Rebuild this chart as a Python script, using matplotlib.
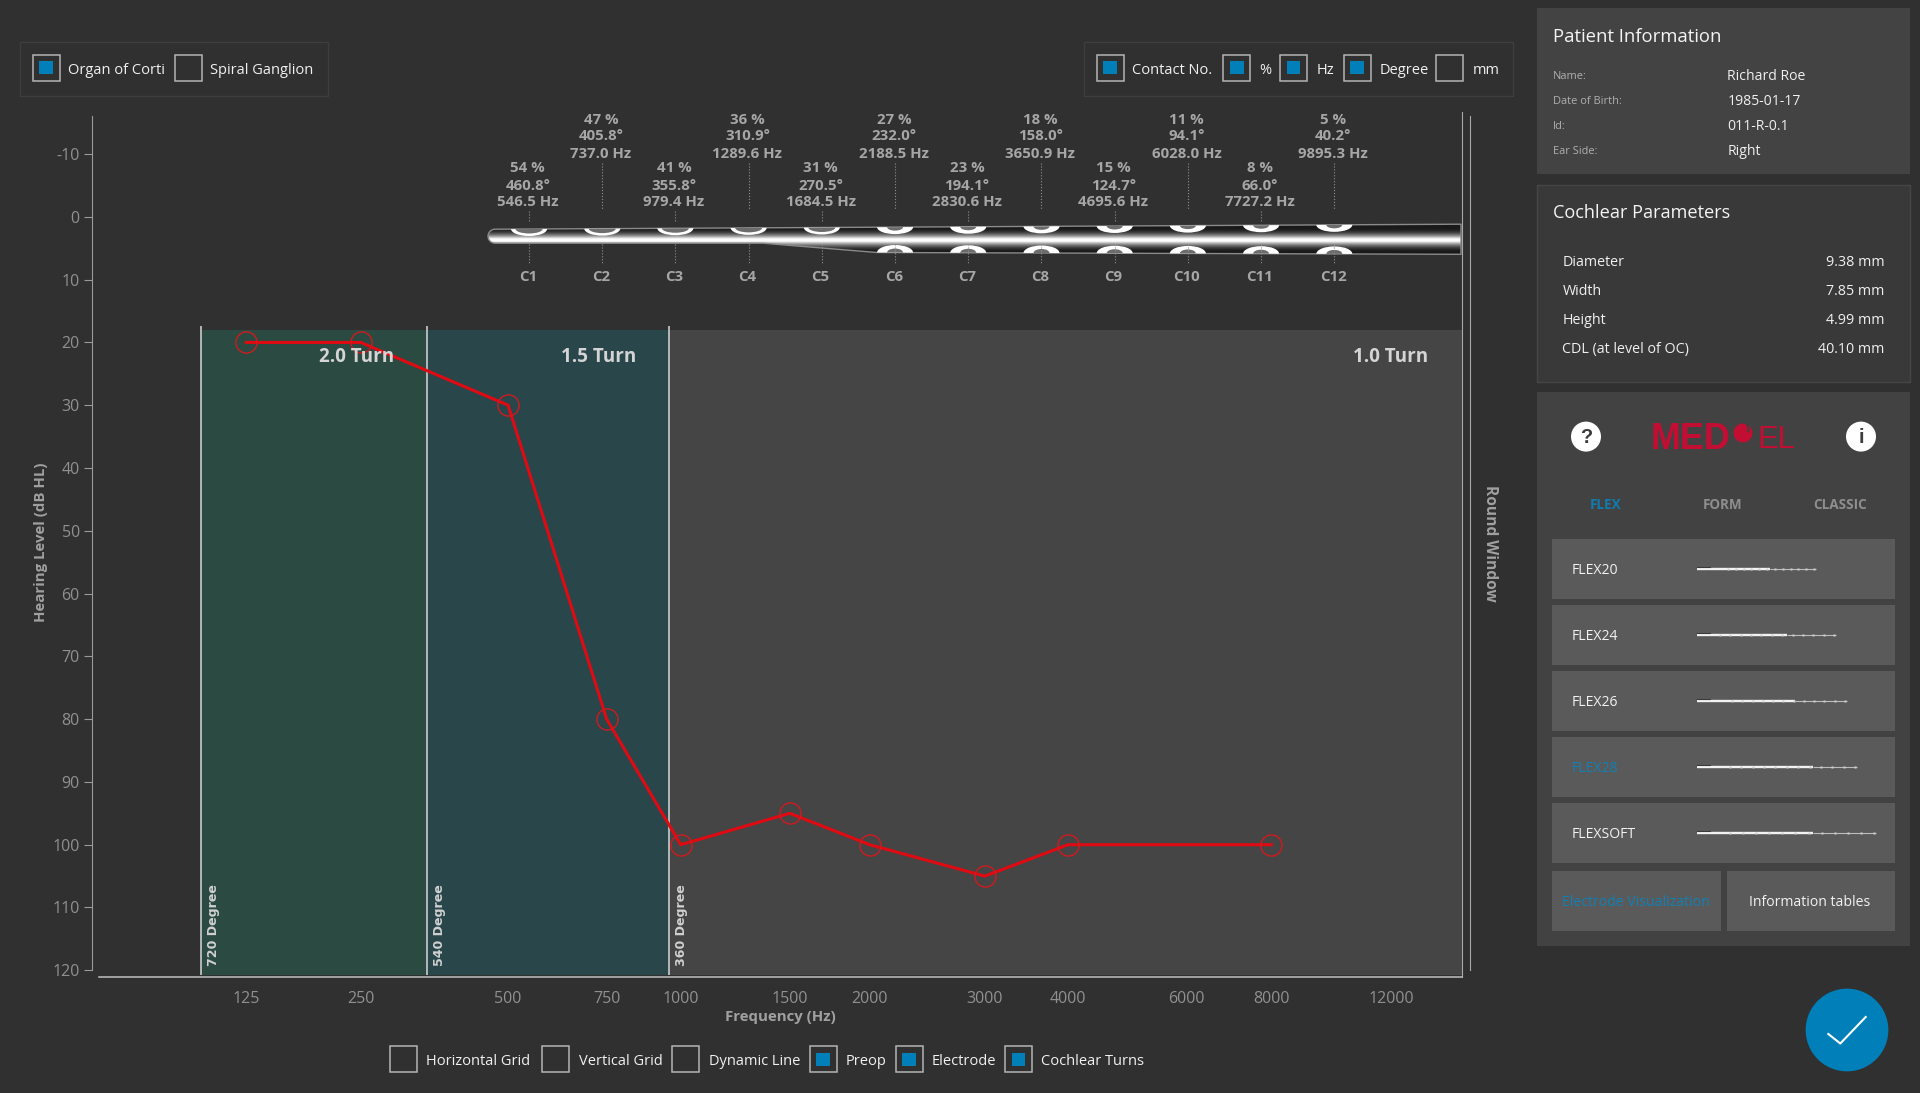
import numpy as np
import matplotlib
matplotlib.use("Agg")
import matplotlib.pyplot as plt
from matplotlib import transforms
from matplotlib.patches import Rectangle, Ellipse, Polygon, Circle, Wedge
from matplotlib.ticker import NullLocator

# audiogram values
freqs = [125, 250, 500, 750, 1000, 1500, 2000, 3000, 4000, 8000]
hearing_level = [20, 20, 30, 80, 100, 95, 100, 105, 100, 100]
x_ticks = [125, 250, 500, 750, 1000, 1500, 2000, 3000, 4000, 6000, 8000, 12000]
y_ticks = [-10, 0, 10, 20, 30, 40, 50, 60, 70, 80, 90, 100, 110, 120]

# electrode contacts
contact_names = ["C1", "C2", "C3", "C4", "C5", "C6", "C7", "C8", "C9", "C10", "C11", "C12"]
contact_pct = [54, 47, 41, 36, 31, 27, 23, 18, 15, 11, 8, 5]
contact_deg = [460.8, 405.8, 355.8, 310.9, 270.5, 232.0, 194.1, 158.0, 124.7, 94.1, 66.0, 40.2]
contact_hz = [546.5, 737.0, 979.4, 1289.6, 1684.5, 2188.5, 2830.6, 3650.9, 4695.6, 6028.0, 7727.2, 9895.3]

# cochlear turns, edges in Hz
turn_edges = [87.3, 348, 957, 15200]
turn_labels = ["2.0 Turn", "1.5 Turn", "1.0 Turn"]
turn_colors = ["#2b4a41", "#29464b", "#454545"]
degree_labels = ["720 Degree", "540 Degree", "360 Degree"]

# side panels
patient_labels = ["Name:", "Date of Birth:", "Id:", "Ear Side:"]
patient_values = ["Richard Roe", "1985-01-17", "011-R-0.1", "Right"]
cochlear_labels = ["Diameter", "Width", "Height", "CDL (at level of OC)"]
cochlear_values = ["9.38 mm", "7.85 mm", "4.99 mm", "40.10 mm"]
electrode_names = ["FLEX20", "FLEX24", "FLEX26", "FLEX28", "FLEXSOFT"]
electrode_ends = [1816, 1836, 1847, 1857, 1876]
electrode_first = [1728, 1720, 1732, 1730, 1730]
electrode_taper = [1770, 1787, 1795, 1813, 1813]

BG = "#303030"
BLUE = "#007fb8"
UI = "Open Sans"


def greenwood(f):
    f = np.maximum(np.asarray(f, dtype=float), 1e-3)
    return np.log10(f / 165.4 + 0.88) / 2.1


def greenwood_inv(p):
    return 165.4 * (10 ** (2.1 * np.asarray(p, dtype=float)) - 0.88)


fig = plt.figure(figsize=(19.2, 10.93), dpi=100, facecolor=BG)

# pixel canvas for everything that is not the chart
bg = fig.add_axes([0, 0, 1, 1], zorder=0)
bg.axis("off")
bg.set_xlim(0, 1920)
bg.set_ylim(1093, 0)

ax = fig.add_axes([92 / 1920, 1 - 977 / 1093, (1462 - 92) / 1920, (977 - 112) / 1093], zorder=1)
ax.patch.set_alpha(0)
ax.set_xscale("function", functions=(greenwood, greenwood_inv))
ax.set_xlim(16.5, 15200)
ax.set_ylim(121.07, -16.7)


def txt(x, y, s, size, color="#f0f0f0", **kw):
    kw.setdefault("va", "center")
    kw.setdefault("family", UI)
    return bg.text(x, y + 1.5, s, fontsize=size * 0.72, color=color, **kw)


def rect(x0, y0, x1, y1, color, edge="none", **kw):
    bg.add_patch(Rectangle((x0, y0), x1 - x0, y1 - y0, facecolor=color, edgecolor=edge, **kw))


def checkbox(x, y, label, tx, on=True, w=27):
    rect(x, y, x + w, y + 26.5, "none", edge="#b4b4b4", lw=1.1)
    if on:
        rect(x + w / 2 - 6.7, y + 6.8, x + w / 2 + 6.7, y + 19.8, BLUE)
    txt(tx, y + 14.5, label, 14.6)


# top and bottom checkbox groups
rect(19.5, 41.5, 327.5, 95.5, "none", edge="#3e3e3e", lw=1)
rect(1083.5, 41.5, 1512.5, 95.5, "none", edge="#3e3e3e", lw=1)
checkbox(32.6, 54.5, "Organ of Corti", 68)
checkbox(174.5, 54.5, "Spiral Ganglion", 210, on=False)
checkbox(1096.6, 54.5, "Contact No.", 1132)
checkbox(1223.3, 54.5, "%", 1259)
checkbox(1280, 54.5, "Hz", 1316.5)
checkbox(1343.6, 54.5, "Degree", 1379.4)
checkbox(1436.4, 54.5, "mm", 1472.6, on=False)
checkbox(390.3, 1045.7, "Horizontal Grid", 426.5, on=False)
checkbox(542.3, 1045.7, "Vertical Grid", 578.6, on=False)
checkbox(672.4, 1045.7, "Dynamic Line", 708.7, on=False)
checkbox(809.6, 1045.7, "Preop", 845.5)
checkbox(895.5, 1045.7, "Electrode", 931.3)
checkbox(1005, 1045.7, "Cochlear Turns", 1041)

# chart
for i in range(3):
    ax.fill_betweenx([18.05, 120.8], turn_edges[i], turn_edges[i + 1], color=turn_colors[i], lw=0, zorder=1)
ax.vlines(turn_edges[:3], 17.4, 120.8, color="#d8d8d8", lw=1.1, zorder=2)
ax.plot(freqs, hearing_level, color="#e00a12", lw=2.2, zorder=4)
ax.plot(freqs, hearing_level, ls="none", marker="o", ms=15.2, mfc="none", mec="#d01a1e", mew=1.0, zorder=4)

ax.set_xticks(x_ticks)
ax.set_xticklabels([str(v) for v in x_ticks], family=UI, fontsize=16 * 0.72, color="#909090")
ax.xaxis.set_minor_locator(NullLocator())
ax.tick_params(axis="x", length=0, pad=10.4)
ax.set_yticks(y_ticks)
ax.set_yticklabels([str(v) for v in y_ticks], family=UI, fontsize=16 * 0.72, color="#909090")
ax.tick_params(axis="y", length=5.8, width=0.8, color="#9a9a9a", pad=3)
ax.spines["top"].set_visible(False)
ax.spines["left"].set_color("#9a9a9a")
ax.spines["left"].set_linewidth(0.8)
ax.spines["left"].set_bounds(120, -16)
ax.spines["bottom"].set_color("#c0c0c0")
ax.spines["bottom"].set_linewidth(1.1)
ax.spines["bottom"].set_bounds(20.3, 15200)
ax.spines["right"].set_color("#a8a8a8")
ax.spines["right"].set_linewidth(0.8)

txt(41, 541, "Hearing Level (dB HL)", 15, "#a0a0a0", rotation=90, ha="center", weight="bold")
txt(780, 1016, "Frequency (Hz)", 15, "#a0a0a0", ha="center", weight="bold")
txt(1490, 542, "Round Window", 15.5, "#a0a0a0", rotation=-90, ha="center", weight="bold")
bg.plot([1469.5, 1469.5], [116, 970], color="#a8a8a8", lw=0.8)

turn_text_x = [357, 599, 1391]
degree_x = [214, 440, 682]
for i in range(3):
    ax.text(turn_text_x[i], 357, turn_labels[i], fontsize=18.8 * 0.72, color="#d4d4d4", ha="center", va="center",
            weight="bold", family=UI, transform=bg.transData, zorder=5)
    ax.text(degree_x[i], 966, degree_labels[i], fontsize=12.6 * 0.72, color="#d0d0d0", rotation=90,
            ha="center", va="bottom", weight="bold", family="DejaVu Sans",
            transform=bg.transData, zorder=5)

# contact annotations, x through the frequency scale
blend = transforms.blended_transform_factory(ax.transData, bg.transData)
blend_text = transforms.offset_copy(blend, fig=fig, x=-1.2, y=0, units="dots")
for i, hz in enumerate(contact_hz):
    y0 = 119.5 if i % 2 else 168.5
    lines = [f"{contact_pct[i]} %", f"{contact_deg[i]:.1f}°", f"{hz:.1f} Hz"]
    for j, line in enumerate(lines):
        ax.text(hz, y0 + 17 * j, line, transform=blend_text, ha="center", va="center", clip_on=False,
                fontsize=15 * 0.72, color="#a6a6a6", weight="bold", family=UI)
    ax.text(hz, 277, contact_names[i], transform=blend_text, ha="center", va="center", clip_on=False,
            fontsize=15 * 0.72, color="#a6a6a6", weight="bold", family=UI)
    if i % 2:
        ax.plot([hz, hz], [163, 209], transform=blend, color="#909090", lw=0.8, ls=":", clip_on=False)
    else:
        ax.plot([hz, hz], [211, 221], transform=blend, color="#909090", lw=0.8, ls=":", clip_on=False)
    ax.plot([hz, hz], [244, 263], transform=blend, color="#909090", lw=0.8, ls=":", clip_on=False)

# electrode body
arc = np.linspace(np.pi / 2, 3 * np.pi / 2, 12)
outline = np.vstack([
    np.column_stack([495 + 7 * np.cos(arc), 236.2 - 7 * np.sin(arc)]),
    [[763, 243.2], [877, 252.5], [1461, 254.3], [1461, 224.2]],
])
body = Polygon(outline, closed=True, facecolor="none", edgecolor="#8a8a8a", lw=1, transform=bg.transData, zorder=3)
bg.add_patch(body)
rows = np.linspace(222, 256, 136)
dist = np.abs(rows - 240)
grad = 0.1 + 0.9 * np.clip(1 - (dist - 1.2) / 11, 0, 1) ** 2.0
im = bg.imshow(grad[:, None], extent=(486, 1462, 256, 222), cmap="gray", vmin=0, vmax=1,
               aspect="auto", interpolation="bilinear", zorder=2)
im.set_clip_path(body)
for i, hz in enumerate(contact_hz):
    xp = ax.transData.transform((hz, 0))[0]
    top = np.interp(xp, [488, 1461], [229.2, 224.2])
    white = Ellipse((xp, top), 36, 14, facecolor="white", edgecolor="none", zorder=3)
    inner = Ellipse((xp, top), 27 if i < 5 else 16, 9 if i < 5 else 7, facecolor="#6c6c6c", edgecolor="none", zorder=3)
    for p in (white, inner):
        bg.add_patch(p)
        p.set_clip_path(body)
    if i >= 5:
        low = np.interp(xp, [877, 1461], [252.5, 254.3])
        white = Ellipse((xp, low), 36, 15, facecolor="white", edgecolor="none", zorder=3)
        inner = Ellipse((xp, low), 16, 8, facecolor="#6c6c6c", edgecolor="none", zorder=3)
        for p in (white, inner):
            bg.add_patch(p)
            p.set_clip_path(body)

# patient panel
rect(1537, 8, 1910, 174, "#434343")
txt(1552.7, 36, "Patient Information", 18.5, "#f4f4f4")
for i, y in enumerate([75, 100, 125, 150]):
    txt(1552.7, y, patient_labels[i], 11, "#b0b0b0")
    txt(1727.3, y, patient_values[i], 14, "#f0f0f0")

# cochlear panel
rect(1537, 184.5, 1910, 381.5, "#393939", edge="#464646", lw=1)
txt(1552.7, 212, "Cochlear Parameters", 18.2, "#f4f4f4")
for i, y in enumerate([261, 290, 319, 348]):
    txt(1562.3, y, cochlear_labels[i], 14.3, "#f0f0f0")
    txt(1884.7, y, cochlear_values[i], 14.3, "#f0f0f0", ha="right")

# electrode chooser panel
rect(1537, 392, 1910, 946, "#424242")
for cx, s in [(1586, "?"), (1861, "i")]:
    bg.add_patch(Ellipse((cx, 436.6), 30, 30, facecolor="white", edgecolor="none"))
    txt(cx, 436, s, 20, "#3c3c3c", ha="center", weight="bold", family="Liberation Sans")
txt(1651, 438, "MED", 36, "#c20e32", weight="bold", family="Liberation Sans")
txt(1757, 438, "EL", 31, "#c20e32", family="Liberation Sans")
bg.add_patch(Circle((1743, 433), 9.5, facecolor="#c20e32", edgecolor="none"))
bg.add_patch(Wedge((1741, 429), 8.5, 270, 25, width=2, facecolor="#424242", edgecolor="none"))
txt(1606, 503.5, "FLEX", 13.5, "#0f7cb0", ha="center", weight="bold")
txt(1723, 503.5, "FORM", 13.5, "#8e8e8e", ha="center", weight="bold")
txt(1840, 503.5, "CLASSIC", 13.5, "#8e8e8e", ha="center", weight="bold")

button_y = [539, 605, 671, 737, 803]
for i, name in enumerate(electrode_names):
    y0 = button_y[i]
    rect(1552, y0, 1895, y0 + 60, "#5a5a5a")
    col = "#1180b5" if name == "FLEX28" else "#f2f2f2"
    txt(1571.3, y0 + 30, name, 14, col)
    ym = y0 + 29.5
    bg.plot([1697, electrode_taper[i]], [ym, ym], color="#f2f2f2", lw=1.7, solid_capstyle="butt")
    bg.plot([electrode_taper[i], electrode_ends[i]], [ym, ym], color="#bdbdbd", lw=0.8, solid_capstyle="butt")
    bg.plot([1697, 1710], [ym - 1.8, ym - 1.8], color="#3a3a3a", lw=0.8)
    marks = np.linspace(electrode_first[i], electrode_ends[i] - 2, 12)
    bg.plot(marks, [ym] * 12, ls="none", marker="s", ms=1.8, mfc="#cfcfcf", mec="none")

rect(1552, 871, 1721, 931, "#5a5a5a")
rect(1727, 871, 1895, 931, "#5a5a5a")
txt(1636, 901, "Electrode Visualization", 14, "#1180b5", ha="center")
txt(1810, 901, "Information tables", 14, "#f2f2f2", ha="center")

# confirm button
bg.add_patch(Ellipse((1847, 1030), 82.7, 82.7, facecolor=BLUE, edgecolor="none"))
bg.plot([1828.3, 1840.3, 1865.7], [1034, 1043.5, 1017], color="white", lw=1.5)

bg.set_xlim(0, 1920)
bg.set_ylim(1093, 0)

fig.savefig("out.png", dpi=100, facecolor=BG)
